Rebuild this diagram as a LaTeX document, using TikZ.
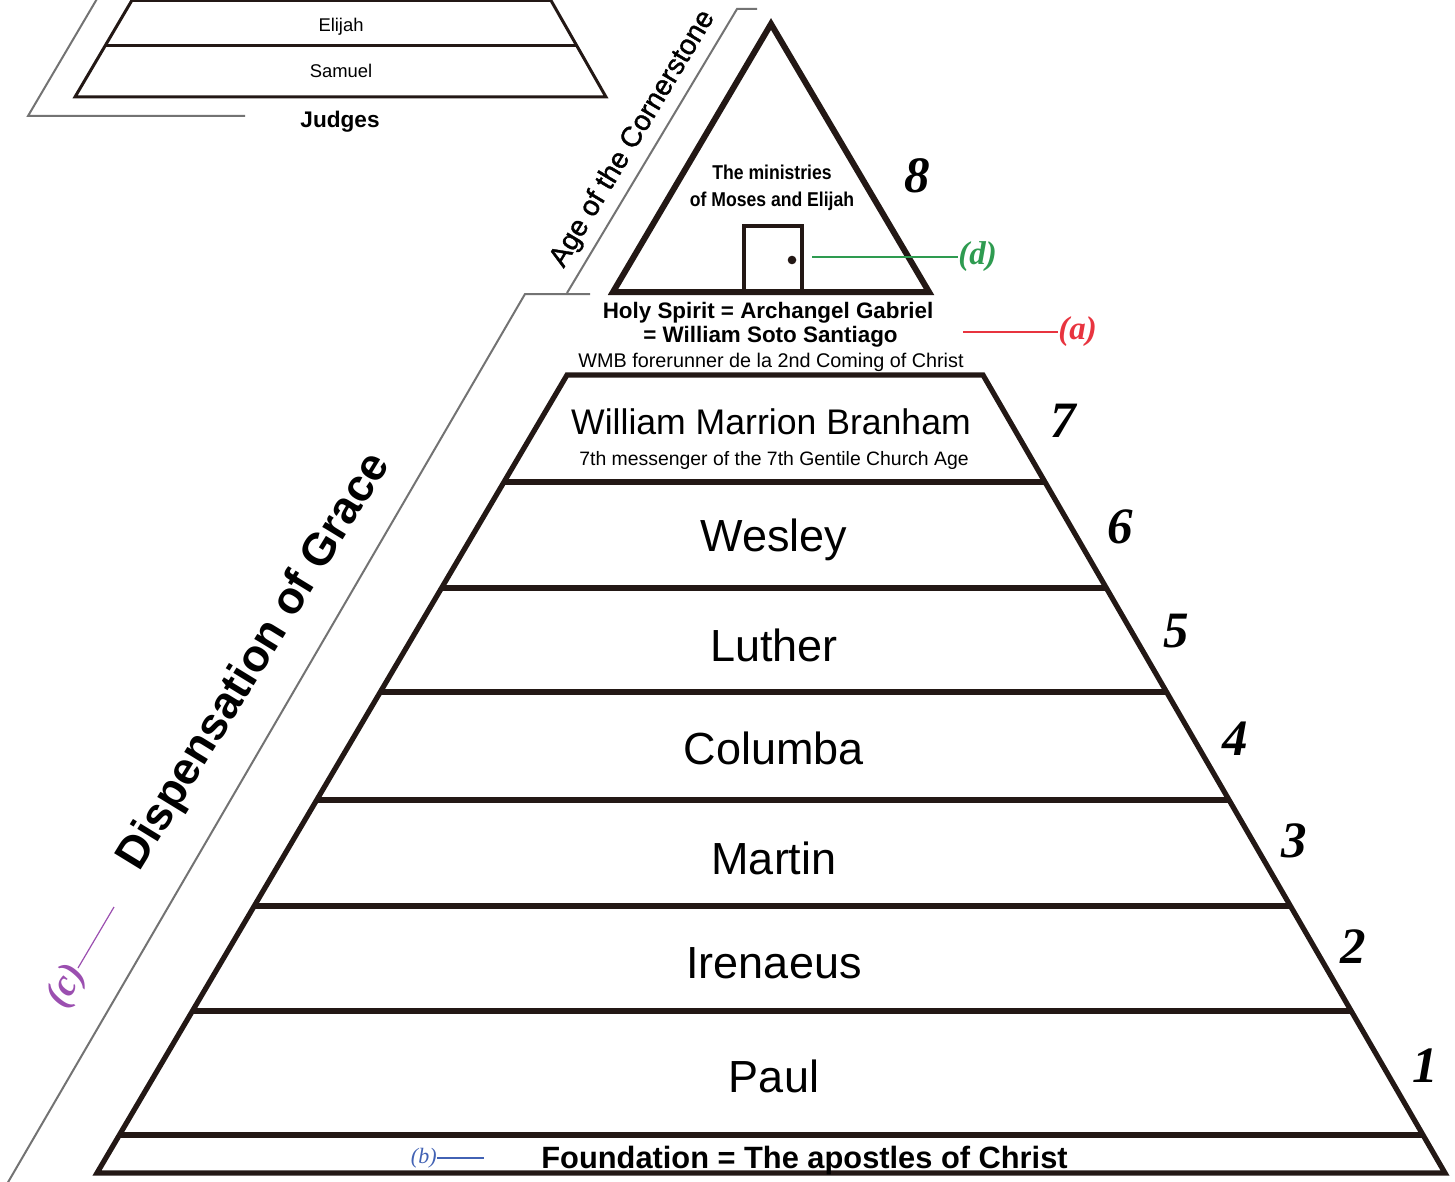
\documentclass[tikz,border=0pt]{standalone}
\usepackage{fontspec}
\setmainfont{Liberation Sans}
\newfontfamily\numfont{Liberation Serif}
\newfontfamily\narrowfont[FakeStretch=0.88]{Liberation Sans}
\newfontfamily\heavyfont[FakeBold=1.3]{Liberation Sans}
\definecolor{pyrline}{HTML}{231815}
\definecolor{bracketgray}{gray}{0.45}
\definecolor{tagred}{HTML}{E8343F}
\definecolor{taggreen}{HTML}{2E9B50}
\definecolor{tagblue}{HTML}{4262B4}
\definecolor{tagpurple}{HTML}{9B4FB0}

\begin{document}
\begin{tikzpicture}[x=0.5pt, y=-0.5pt,
			pyramid/.style={draw=pyrline, line width=2.6pt, line join=miter},
			smallpyr/.style={draw=pyrline, line width=1.5pt},
			bracket/.style={draw=bracketgray, line width=1pt},
			level/.style={anchor=base, inner sep=0pt, font=\fontsize{22.5}{27}\selectfont},
			number/.style={anchor=base, inner sep=0pt, font=\numfont\bfseries\itshape\fontsize{25.5}{30}\selectfont},
			tag/.style={inner sep=0pt, font=\numfont\bfseries\itshape\fontsize{16.5}{19}\selectfont},
			tagline/.style={line width=0.6pt},
			caption/.style={anchor=base, inner sep=0pt}]
			\useasboundingbox (0,0) rectangle (1455,1182);
			\clip (0,0) rectangle (1455,1182);
			
			\draw[smallpyr] (131.5,1) -- (551,1);
			\draw[smallpyr] (105,46) -- (577,46);
			\draw[smallpyr] (138,-10) -- (75,97) -- (606,97) -- (545,-10);
			\node[caption, font=\fontsize{9.2}{11}\selectfont](elijah) at (341,32) {Elijah};
			\node[caption, font=\fontsize{9.2}{11}\selectfont](samuel) at (341,78) {Samuel};
			\node[caption, font=\bfseries\fontsize{11.3}{13}\selectfont](judges) at (340,128) {Judges};
			\draw[bracket] (245,116) -- (28,116) -- (97.5,-2);
			
			\draw[pyramid, line width=3pt] (771,24) -- (929,292) -- (613,292) -- cycle;
			\draw[pyramid, line width=2.4pt, line join=miter] (744,292) -- (744,226) -- (802,226) -- (802,292);
			\coordinate (knob) at (792,260);
			\fill[pyrline] (knob) circle (4.3);
			\node[caption, font=\narrowfont\bfseries\fontsize{10}{12}\selectfont](moses1) at (772,180) {The ministries};
			\node[caption, font=\narrowfont\bfseries\fontsize{10}{12}\selectfont](moses2) at (772,207) {of Moses and Elijah};
			\node[number](num8) at (917,193) {8};
			
			\coordinate (dstart) at (812,257);
			\node[tag, text=taggreen, anchor=west](labeld) at (958,257) {(d)};
			\draw[tagline, taggreen] (dstart) -- (labeld.west);
			
			\draw[bracket] (757,9) -- (737,9) -- (567,293);
			\draw[bracket] (590,294) -- (525,294) -- (0.6,1195);
			\node[rotate=59, font=\heavyfont\fontsize{14.2}{17}\selectfont](cornerstone) at (633,139) {Age of the Cornerstone};
			\node[rotate=58.5, font=\bfseries\fontsize{22.6}{27}\selectfont](dispensation) at (255,662) {Dispensation of Grace};
			
			\node[caption, font=\bfseries\fontsize{11.2}{13}\selectfont](holy1) at (768,318) {Holy Spirit = Archangel Gabriel};
			\node[caption, font=\bfseries\fontsize{11.2}{13}\selectfont](holy2) at (770.5,342) {= William Soto Santiago};
			\node[caption, font=\fontsize{9.9}{12}\selectfont](forerunner) at (771,367) {WMB forerunner de la 2nd Coming of Christ};
			
			\coordinate (astart) at (963,332);
			\node[tag, text=tagred, anchor=west](labela) at (1058,332) {(a)};
			\draw[tagline, tagred] (astart) -- (labela.west);
			
			\draw[pyramid] (97,1173) -- (567,375) -- (983,375) -- (1445,1173) -- cycle;
			\draw[pyramid] (503.9,482) -- (1045,482);
			\draw[pyramid] (441.4,588) -- (1106.5,588);
			\draw[pyramid] (380.1,692) -- (1166.8,692);
			\draw[pyramid] (316.4,800) -- (1229.4,800);
			\draw[pyramid] (253.9,906) -- (1290.8,906);
			\draw[pyramid] (192,1011) -- (1351.7,1011);
			\draw[pyramid] (118.8,1135) -- (1423.6,1135);
			
			\node[level, font=\fontsize{17.8}{21}\selectfont](level7) at (771,434) {William Marrion Branham};
			\node[caption, font=\fontsize{9.7}{12}\selectfont](messenger) at (774,465) {7th messenger of the 7th Gentile Church Age};
			\node[level](level6) at (774,551) {Wesley};
			\node[level](level5) at (774,661) {Luther};
			\node[level](level4) at (774,764) {Columba};
			\node[level](level3) at (774,874) {Martin};
			\node[level](level2) at (774,978) {Irenaeus};
			\node[level](level1) at (774,1092) {Paul};
			\node[caption, font=\bfseries\fontsize{15.4}{18}\selectfont](foundation) at (804.5,1168) {Foundation = The apostles of Christ};
			
			\node[number](num7) at (1063,437) {7};
			\node[number](num6) at (1120,543) {6};
			\node[number](num5) at (1176,647) {5};
			\node[number](num4) at (1235,755) {4};
			\node[number](num3) at (1294,857) {3};
			\node[number](num2) at (1353,963) {2};
			\node[number](num1) at (1425,1082) {1};
			
			\node[inner sep=0pt, anchor=east, text=tagblue, font=\numfont\itshape\fontsize{11}{13}\selectfont](labelb) at (437,1158) {(b)};
			\coordinate (bend) at (484,1158);
			\draw[tagline, tagblue] (labelb.east) -- (bend);
			
			\node[tag, text=tagpurple, rotate=60, anchor=east, font=\numfont\bfseries\itshape\fontsize{19}{22}\selectfont](labelc) at (78,968) {(c)};
			\coordinate (cend) at (114,907);
			\draw[tagline, tagpurple] (labelc.east) -- (cend);
			\end{tikzpicture}
\end{document}
